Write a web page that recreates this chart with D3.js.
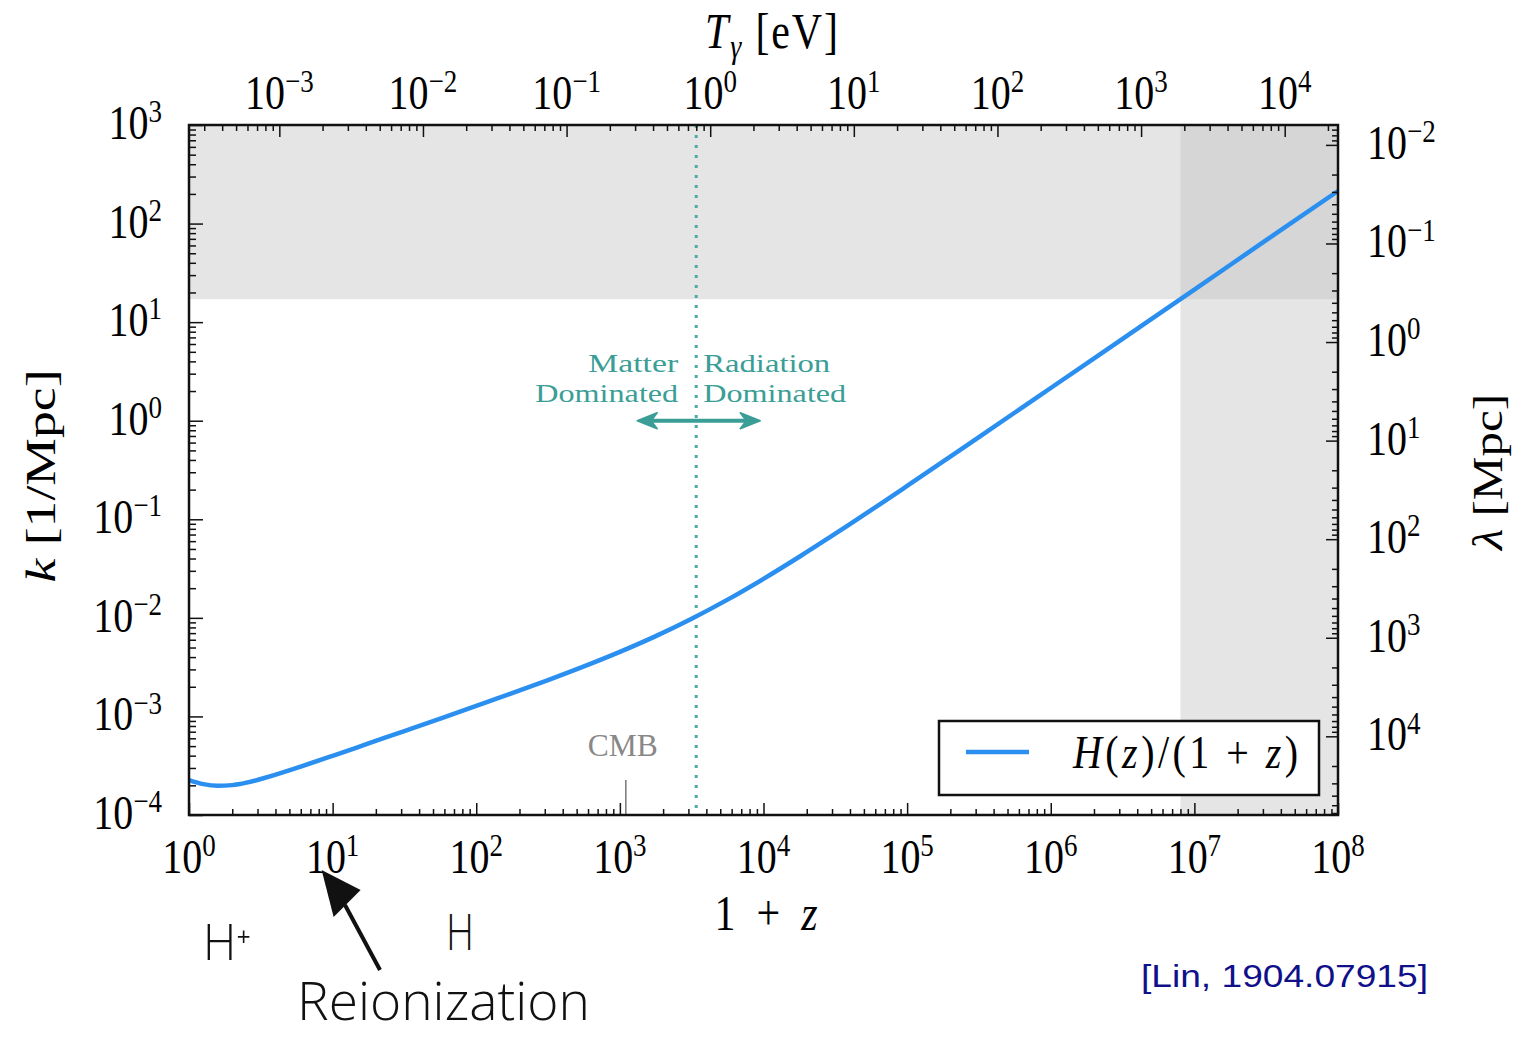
<!DOCTYPE html>
<html>
<head>
<meta charset="utf-8">
<script src="https://cdn.jsdelivr.net/npm/d3@7"></script>
<style>
  body { margin: 0; background: #fff; }
  svg { display: block; }
  .serif { font-family: "Liberation Serif", "Times New Roman", Times, serif; }
</style>
</head>
<body>
<svg></svg>
<script>
// data
const onePlusZ = [1, 1.259, 1.585, 1.995, 2.512, 3.162, 5.623, 10, 17.78, 31.62, 56.23,
  100, 177.8, 316.2, 562.3, 1000, 1778, 3162, 5623, 1e4, 1.778e4, 3.162e4,
  1e5, 3.162e5, 1e6, 3.162e6, 1e7, 3.162e7, 1e8];
const kValues = [2.26e-4, 2.056e-4, 1.977e-4, 2.009e-4, 2.128e-4, 2.317e-4, 3.006e-4, 3.98e-4,
  5.32e-4, 7.11e-4, 9.51e-4, 1.277e-3, 1.722e-3, 2.339e-3, 3.22e-3, 4.52e-3, 6.53e-3,
  9.80e-3, 1.531e-2, 2.489e-2, 4.17e-2, 7.14e-2, 0.218, 0.682, 2.148, 6.78, 21.4, 67.8, 214];

const xTickExp = [0, 1, 2, 3, 4, 5, 6, 7, 8];        // 1+z
const yTickExp = [-4, -3, -2, -1, 0, 1, 2, 3];       // k [1/Mpc]
const tTickExp = [-3, -2, -1, 0, 1, 2, 3, 4];        // T_gamma [eV]
const lTickExp = [-2, -1, 0, 1, 2, 3, 4];            // lambda [Mpc]

const T0 = 2.35e-4;          // eV today
const zEq = 3400;            // matter-radiation equality (1+z)
const zCMB = 1100;           // CMB (1+z)
const kCut = 17.1;           // shaded above this k
const zCut = 8e6;            // shaded above this 1+z

// MARGIN CONVENTIONS
const margin = { top: 125, right: 176, bottom: 223, left: 189 };
const outerWidth = 1514;
const outerHeight = 1038;
const width = outerWidth - margin.left - margin.right;
const height = outerHeight - margin.top - margin.bottom;

const svg = d3.select("svg")
  .attr("width", outerWidth)
  .attr("height", outerHeight);

const g = svg.append("g")
  .attr("transform", `translate(${margin.left}, ${margin.top})`);

// scales
const x = d3.scaleLog().domain([1, 1e8]).range([0, width]);
const y = d3.scaleLog().domain([1e-4, 1e3]).range([height, 0]);
const xT = d3.scaleLog().domain([T0, T0 * 1e8]).range([0, width]);
const yL = d3.scaleLog().domain([2 * Math.PI / 1e-4, 2 * Math.PI / 1e3]).range([height, 0]);

const minors = (lo, hi) => {
  const out = [];
  for (let e = lo; e <= hi; e++) for (let m = 2; m <= 9; m++) out.push(m * Math.pow(10, e));
  return out;
};

// shaded regions
const band = g.append("g");
band.append("rect")
  .attr("x", 0).attr("y", y(1e3))
  .attr("width", width).attr("height", y(kCut) - y(1e3))
  .style("fill", "#c1c1c1").style("opacity", 0.42);
band.append("rect")
  .attr("x", x(zCut)).attr("y", 0)
  .attr("width", x(1e8) - x(zCut)).attr("height", height)
  .style("fill", "#c1c1c1").style("opacity", 0.42);

// equality line
g.append("line")
  .attr("x1", x(zEq)).attr("x2", x(zEq))
  .attr("y1", 0).attr("y2", height)
  .style("stroke", "#4fa9a5").style("stroke-width", 3)
  .style("stroke-dasharray", "3,7");

// CMB marker
g.append("line")
  .attr("x1", x(zCMB)).attr("x2", x(zCMB))
  .attr("y1", height - 35).attr("y2", height)
  .style("stroke", "#777").style("stroke-width", 1.5);

// stretched serif text helper
function tex(parent, px, py, anchor, size, sy) {
  return parent.append("g")
    .attr("transform", `translate(${px}, ${py}) scale(1, ${sy || 1.2})`)
    .append("text")
    .attr("class", "serif")
    .attr("text-anchor", anchor)
    .style("font-size", size + "px");
}
function pow10(parent, px, py, anchor, e) {
  const t = tex(parent, px, py, anchor, 40);
  t.append("tspan").text("10");
  t.append("tspan").attr("dy", -14).style("font-size", "27px")
    .text(e < 0 ? "\u2212" + (-e) : e);
  return t;
}

tex(g, x(zCMB) - 3, height - 59, "middle", 29, 1.1).style("fill", "#888")
  .attr("textLength", 70).attr("lengthAdjust", "spacingAndGlyphs").text("CMB");

// curve
const pts = onePlusZ.map((v, i) => ({ z: v, k: kValues[i] }));
const line = d3.line().x(d => x(d.z)).y(d => y(d.k)).curve(d3.curveMonotoneX);
g.append("path")
  .datum(pts)
  .attr("d", line)
  .style("fill", "none")
  .style("stroke", "#2b8ff0")
  .style("stroke-width", 4.5);

// matter / radiation annotation
const teal = "#3a9e96";
const ann = (px, py, anchor, len, txt) =>
  tex(g, px, py, anchor, 25, 1.0).style("fill", teal)
    .attr("textLength", len).attr("lengthAdjust", "spacingAndGlyphs").text(txt);
ann(x(zEq) - 18, 247, "end", 90, "Matter");
ann(x(zEq) - 18, 277, "end", 143, "Dominated");
ann(x(zEq) + 7, 247, "start", 127, "Radiation");
ann(x(zEq) + 7, 277, "start", 143, "Dominated");

const ay = y(1);
const ax0 = x(zEq) - 59, ax1 = x(zEq) + 64;
g.append("line")
  .attr("x1", ax0 + 10).attr("x2", ax1 - 10).attr("y1", ay).attr("y2", ay)
  .style("stroke", teal).style("stroke-width", 4);
g.append("path")
  .attr("d", `M${ax0},${ay} L${ax0 + 20},${ay - 8} L${ax0 + 14},${ay} L${ax0 + 20},${ay + 8} Z
              M${ax1},${ay} L${ax1 - 20},${ay - 8} L${ax1 - 14},${ay} L${ax1 - 20},${ay + 8} Z`)
  .style("fill", teal).style("stroke", teal).style("stroke-width", 1.5)
  .style("stroke-linejoin", "round");

// frame
g.append("rect")
  .attr("width", width).attr("height", height)
  .style("fill", "none").style("stroke", "#111").style("stroke-width", 2.5);

// axes (inward ticks)
function tickAxis(axis, scale, values, size, tr) {
  const a = g.append("g")
    .attr("transform", tr)
    .call(axis(scale).tickValues(values).tickSize(-size).tickFormat(""));
  a.select(".domain").remove();
  a.selectAll("line").style("stroke", "#111").style("stroke-width", 1.5);
  return a;
}
const inRange = (s) => (v) => { const p = s(v); return p >= -0.5 && p <= width + 0.5; };
const inRangeY = (s) => (v) => { const p = s(v); return p >= -0.5 && p <= height + 0.5; };

tickAxis(d3.axisBottom, x, xTickExp.map(e => Math.pow(10, e)), 12, `translate(0, ${height})`);
tickAxis(d3.axisBottom, x, minors(0, 7), 6, `translate(0, ${height})`);
tickAxis(d3.axisLeft, y, yTickExp.map(e => Math.pow(10, e)), 14, "translate(0, 0)");
tickAxis(d3.axisLeft, y, minors(-4, 2), 7, "translate(0, 0)");
tickAxis(d3.axisTop, xT, tTickExp.map(e => Math.pow(10, e)), 12, "translate(0, 0)");
tickAxis(d3.axisTop, xT, minors(-4, 4).filter(inRange(xT)), 6, "translate(0, 0)");
tickAxis(d3.axisRight, yL, lTickExp.map(e => Math.pow(10, e)), 12, `translate(${width}, 0)`);
tickAxis(d3.axisRight, yL, minors(-3, 4).filter(inRangeY(yL)), 6, `translate(${width}, 0)`);

// tick labels
xTickExp.forEach(e => pow10(g, x(Math.pow(10, e)), height + 58, "middle", e));
yTickExp.forEach(e => pow10(g, -27, y(Math.pow(10, e)) + 14, "end", e));
tTickExp.forEach(e => pow10(g, xT(Math.pow(10, e)), -16, "middle", e));
lTickExp.forEach(e => pow10(g, width + 29, yL(Math.pow(10, e)) + 14, "start", e));

// axis titles
const xl = tex(g, 766 - margin.left, 930 - margin.top, "middle", 42).attr("textLength", 103);
xl.append("tspan").text("1 + ");
xl.append("tspan").style("font-style", "italic").text("z");

const tl = tex(g, 705 - margin.left, 48 - margin.top, "start", 42)
  .attr("textLength", 133);
tl.append("tspan").style("font-style", "italic").text("T");
tl.append("tspan").style("font-style", "italic").style("font-size", "28px").attr("dy", 8).text("\u03b3");
tl.append("tspan").attr("dy", -8).text(" [eV]");

const yl = svg.append("g").attr("transform", "translate(55, 476) rotate(-90)")
  .append("text").attr("class", "serif").attr("text-anchor", "middle")
  .style("font-size", "42px").attr("textLength", 213).attr("lengthAdjust", "spacingAndGlyphs");
yl.append("tspan").style("font-style", "italic").text("k");
yl.append("tspan").text(" [1/Mpc]");

const rl = svg.append("g").attr("transform", "translate(1502, 472) rotate(-90)")
  .append("text").attr("class", "serif").attr("text-anchor", "middle")
  .style("font-size", "42px").attr("textLength", 156).attr("lengthAdjust", "spacingAndGlyphs");
rl.append("tspan").style("font-style", "italic").text("\u03bb");
rl.append("tspan").text(" [Mpc]");

// legend
const lg = g.append("g").attr("transform", `translate(${939 - margin.left}, ${721 - margin.top})`);
lg.append("rect").attr("width", 380).attr("height", 74)
  .style("fill", "#fff").style("stroke", "#111").style("stroke-width", 2.5);
lg.append("line").attr("x1", 27).attr("x2", 90).attr("y1", 31).attr("y2", 31)
  .style("stroke", "#2b8ff0").style("stroke-width", 4.5);
const lt = tex(lg, 134, 47, "start", 40, 1.15).attr("textLength", 225);
lt.append("tspan").style("font-style", "italic").text("H");
lt.append("tspan").text("(");
lt.append("tspan").style("font-style", "italic").text("z");
lt.append("tspan").text(")/(1 + ");
lt.append("tspan").style("font-style", "italic").text("z");
lt.append("tspan").text(")");

// hand annotations
const hand = svg.append("g")
  .style("font-family", "'Open Sans', 'DejaVu Sans', sans-serif")
  .style("font-weight", 300)
  .style("fill", "#111");
hand.append("text").attr("x", 203).attr("y", 960).style("font-size", "50px")
  .attr("textLength", 48).attr("lengthAdjust", "spacingAndGlyphs").text("H\u207A");
hand.append("text").attr("x", 446).attr("y", 950).style("font-size", "50px")
  .attr("textLength", 28).attr("lengthAdjust", "spacingAndGlyphs").text("H");
hand.append("g").attr("transform", "translate(297, 1020) scale(1, 1.22)")
  .append("text").style("font-size", "44px")
  .attr("textLength", 293).attr("lengthAdjust", "spacingAndGlyphs").text("Reionization");

const tip = [x(10) - 11 + margin.left, 870];
svg.append("line")
  .attr("x1", 380).attr("y1", 970).attr("x2", 345).attr("y2", 905)
  .style("stroke", "#111").style("stroke-width", 4);
svg.append("path")
  .attr("d", `M${tip[0]},${tip[1]} L${tip[0] + 39},${tip[1] + 20} L${tip[0] + 12},${tip[1] + 47} Z`)
  .style("fill", "#111");

// citation
svg.append("text")
  .attr("x", 1141).attr("y", 987)
  .style("font-family", "'Liberation Sans', Arial, Helvetica, sans-serif")
  .style("font-size", "31px")
  .style("fill", "#10108a")
  .attr("textLength", 287).attr("lengthAdjust", "spacingAndGlyphs")
  .text("[Lin, 1904.07915]");
</script>
</body>
</html>
